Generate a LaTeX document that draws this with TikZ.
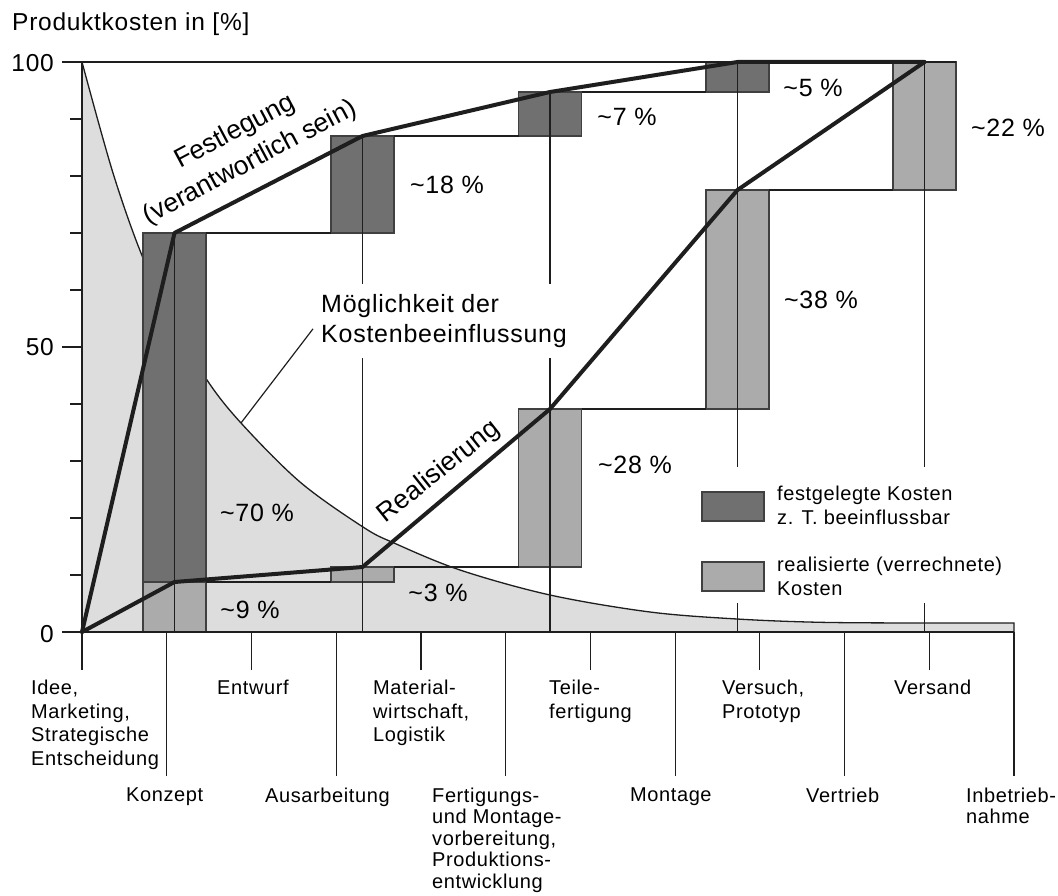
\documentclass[tikz,border=0pt]{standalone}
\usepackage{fontspec}
\setmainfont{Liberation Sans}[LetterSpace=3]
\newfontfamily\tightsans{Liberation Sans}
\definecolor{fixgrey}{HTML}{707070}
\definecolor{realgrey}{HTML}{ABABAB}
\definecolor{areagrey}{HTML}{DDDDDD}
\definecolor{ink}{HTML}{1E1E1E}

\begin{document}
\begin{tikzpicture}[x=1pt, y=-1pt,
  thinln/.style={draw=ink, line width=1.2pt},
  heavy/.style={draw=ink, line width=4pt, line join=round, line cap=round},
  axisln/.style={draw=ink, line width=2.8pt},
  bar/.style={draw=ink!85, line width=1.3pt, minimum width=63pt, inner sep=0pt, outer sep=0pt},
  fixbar/.style={bar, fill=fixgrey},
  realbar/.style={bar, fill=realgrey},
  big/.style={font=\fontsize{25}{30}\selectfont, inner sep=0pt},
  slanted/.style={font=\tightsans\fontsize{26.5}{30}\selectfont, inner sep=0pt},
  axnum/.style={font=\fontsize{24.5}{28}\selectfont, inner sep=0pt},
  phase/.style={font=\fontsize{20}{23.5}\selectfont, inner sep=0pt, align=left, anchor=north west},
  phaselow/.style={phase, font=\fontsize{20}{21.6}\selectfont},
  legtext/.style={font=\fontsize{20}{24}\selectfont, inner sep=0pt, align=left, anchor=north west},
]
\useasboundingbox (0,0) rectangle (1058,896);

% axis corner points
\coordinate (o) at (82,632);
\coordinate (ytop) at (82,62);
\coordinate (xend) at (1014,632);

% shrinking possibility to influence the costs
\def\possib{(82,62) (113,173) (143,258) (175,324) (207,380) (241,423) (300,482)
  (363,527) (394,543) (460,570) (550,595) (650,612) (737,619) (820,622.3) (920,623) (1014,623)}
\fill[areagrey] (o) -- plot[smooth, tension=0.55] coordinates {\possib} -- (xend) -- cycle;
\draw[line width=1.3pt, draw=ink] plot[smooth, tension=0.55] coordinates {\possib} -- (xend);

% committed costs (dark) and realised costs (light) per phase
\node[fixbar,  minimum height=349pt] (fA) at (174.5,407.5) {};
\node[realbar, minimum height=50pt]  (rA) at (174.5,607) {};
\node[fixbar,  minimum height=97pt]  (fB) at (362.5,184.5) {};
\node[realbar, minimum height=15pt]  (rB) at (362.5,574.5) {};
\node[fixbar,  minimum height=44pt]  (fC) at (550,114) {};
\node[realbar, minimum height=158pt] (rC) at (550,488) {};
\node[fixbar,  minimum height=30pt]  (fD) at (737.5,77) {};
\node[realbar, minimum height=219pt] (rD) at (737.5,299.5) {};
\node[realbar, minimum height=128pt] (rE) at (924.5,126) {};

% step connectors between the bars
\draw[thinln] (62,62) -- (rE.north east);
\draw[thinln] (fA.north east) -- (fB.south west);
\draw[thinln] (fB.north east) -- (fC.south west);
\draw[thinln] (fC.north east) -- (fD.south west);
\draw[thinln] (rA.north east) -- (rB.south west);
\draw[thinln] (rB.north east) -- (rC.south west);
\draw[thinln] (rC.north east) -- (rD.south west);
\draw[thinln] (rD.north east) -- (rE.south west);

% centre lines of the bars down to the axis
\draw[thinln] (fA.north) -- (fA.north |- o);
\draw[thinln] (fB.north) -- (fB.north |- o);
\draw[thinln] (fC.north) -- (fC.north |- o);
\draw[thinln] (fD.north) -- (fD.north |- o);
\draw[thinln] (rE.north) -- (rE.north |- o);

% cumulative curves
\draw[heavy] (o) -- (fA.north) -- (fB.north) -- (fC.north) -- (fD.north) -- (rE.north);
\draw[heavy] (o) -- (rA.north) -- (rB.north) -- (rC.north) -- (rD.north) -- (rE.north);

% axes and ticks
\draw[axisln] (ytop) -- (o) -- (xend);
\foreach \v in {10,20,30,40,60,70,80,90}
  \draw[thinln] (70,{632-5.7*\v}) -- (82,{632-5.7*\v});
\draw[thinln] (62,347) -- (82,347);
\draw[thinln] (62,632) -- (82,632);
\foreach \i in {0,2,...,10}
  \draw[thinln] ({82+84.73*\i},632) -- ({82+84.73*\i},670);
\foreach \i in {1,3,...,11}
  \draw[thinln] ({82+84.73*\i},632) -- ({82+84.73*\i},776);

\node[axnum, anchor=base west] (ttl) at (12,31) {Produktkosten in [\%]};
\node[axnum, anchor=base east] (n100) at (54,72) {100};
\node[axnum, anchor=base east] (n50) at (54,355) {50};
\node[axnum, anchor=base east] (n0) at (54,642) {0};

% curve labels
\node[slanted, rotate=28] (fest) at (235,132) {Festlegung};
\node[slanted, rotate=28] (vera) at (250,163) {(verantwortlich sein)};
\node[slanted, rotate=38.5] (real) at (439,472) {Realisierung};

\coordinate (mkfoot) at (241,423);
\node[big, fill=white, inner xsep=8pt, inner ysep=10pt, align=left, anchor=north west]
  (mk) at (313,284) {Möglichkeit der\\Kostenbeeinflussung};
\draw[thinln] (mkfoot) -- ([yshift=-8pt]mk.west);

% share of each phase
\node[big] (p70) at (257,513) {\textasciitilde70 \%};
\node[big] (p9)  at (250,610) {\textasciitilde9 \%};
\node[big] (p18) at (447,185) {\textasciitilde18 \%};
\node[big] (p3)  at (438,593) {\textasciitilde3 \%};
\node[big] (p7)  at (627,117) {\textasciitilde7 \%};
\node[big] (p28) at (635,465) {\textasciitilde28 \%};
\node[big] (p5)  at (813,88)  {\textasciitilde5 \%};
\node[big] (p38) at (821,300) {\textasciitilde38 \%};
\node[big] (p22) at (1008,128) {\textasciitilde22 \%};

% legend
\fill[white] (690,467) rectangle (1012,603);
\node[fixbar,  minimum width=62pt, minimum height=29pt] (kfix)  at (733,506.5) {};
\node[realbar, minimum width=62pt, minimum height=29pt] (kreal) at (733,576.5) {};
\node[legtext] (tfix)  at (777,485.5) {festgelegte Kosten\\z. T. beeinflussbar};
\node[legtext] (treal) at (777,556.5) {realisierte (verrechnete)\\Kosten};

% phases
\node[phase] (ph0)  at (31,680)  {Idee,\\Marketing,\\Strategische\\Entscheidung};
\node[phaselow] (ph1)  at (126,787.5) {Konzept};
\node[phase] (ph2)  at (217,680) {Entwurf};
\node[phaselow] (ph3)  at (265,787.5) {Ausarbeitung};
\node[phase] (ph4)  at (373,680) {Material-\\wirtschaft,\\Logistik};
\node[phaselow] (ph5)  at (432,787.5) {Fertigungs-\\und Montage-\\vorbereitung,\\Produktions-\\entwicklung};
\node[phase] (ph6)  at (549,680) {Teile-\\fertigung};
\node[phaselow] (ph7)  at (630,787.5) {Montage};
\node[phase] (ph8)  at (722,680) {Versuch,\\Prototyp};
\node[phaselow] (ph9)  at (806,787.5) {Vertrieb};
\node[phase] (ph10) at (894,680) {Versand};
\node[phaselow] (ph11) at (966,787.5) {Inbetrieb-\\nahme};
\end{tikzpicture}
\end{document}
